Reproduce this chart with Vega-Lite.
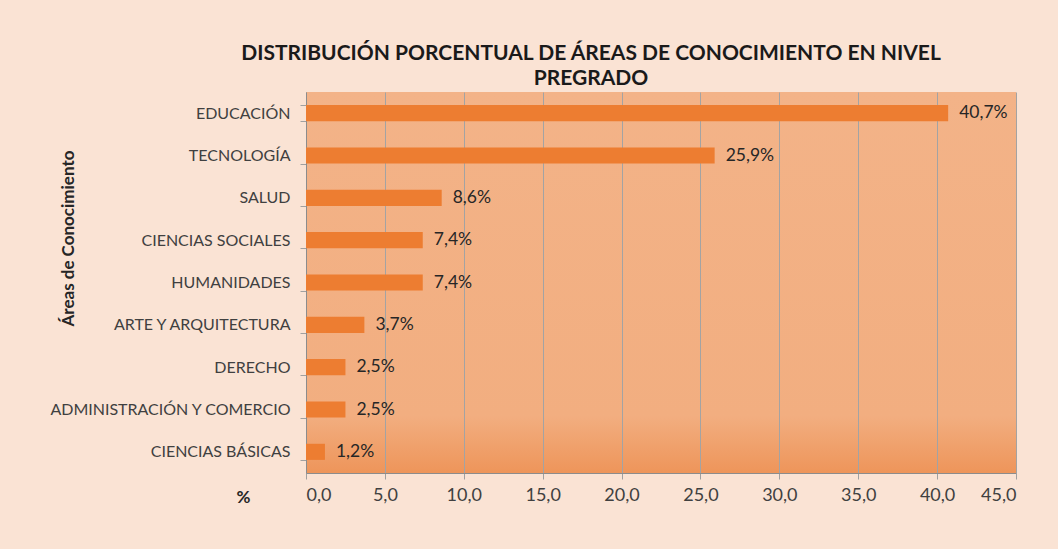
{
  "$schema": "https://vega.github.io/schema/vega-lite/v6.json",
  "width": 710,
  "height": 381,
  "autosize": {"type": "none"},
  "padding": {"left": 306, "top": 92, "right": 42, "bottom": 76},
  "background": "#fae3d4",
  "config": {
    "font": "Lato",
    "locale": {"number": {"decimal": ",", "thousands": ".", "grouping": [3], "currency": ["", "%"]}},
    "view": {
      "stroke": null,
      "fill": {"gradient": "linear", "x1": 0, "y1": 0, "x2": 0, "y2": 1,
        "stops": [{"offset": 0, "color": "#f3b388"}, {"offset": 0.85, "color": "#f2ae80"}, {"offset": 1, "color": "#ee955a"}]}
    }
  },
  "title": {
    "text": ["DISTRIBUCIÓN PORCENTUAL  DE ÁREAS DE CONOCIMIENTO EN NIVEL", "PREGRADO"],
    "fontSize": 21,
    "fontWeight": "bold",
    "color": "#1a1a1a",
    "lineHeight": 25,
    "anchor": "middle",
    "frame": "group",
    "dx": -70,
    "offset": -5
  },
  "data": {
    "values": [
      {"area": "EDUCACIÓN", "pct": 40.7},
      {"area": "TECNOLOGÍA", "pct": 25.9},
      {"area": "SALUD", "pct": 8.6},
      {"area": "CIENCIAS SOCIALES", "pct": 7.4},
      {"area": "HUMANIDADES", "pct": 7.4},
      {"area": "ARTE Y ARQUITECTURA", "pct": 3.7},
      {"area": "DERECHO", "pct": 2.5},
      {"area": "ADMINISTRACIÓN Y COMERCIO", "pct": 2.5},
      {"area": "CIENCIAS BÁSICAS", "pct": 1.2}
    ]
  },
  "encoding": {
    "y": {
      "field": "area", "type": "nominal", "sort": null,
      "scale": {"paddingInner": 0.62, "paddingOuter": 0.31},
      "axis": {
        "title": "Áreas de Conocimiento",
        "titleX": -238, "titleY": 146, "titleAngle": -90, "titleBaseline": "middle", "titleAlign": "center",
        "titleFontSize": 17, "titleFontWeight": "bold", "titleColor": "#262626",
        "labelFontSize": 16, "labelColor": "#404040", "labelPadding": 10, "labelLimit": 400,
        "tickSize": 6, "tickBand": "extent", "tickColor": "#a0a0a0",
        "domainColor": "#8c8c8c", "grid": false
      }
    },
    "x": {
      "field": "pct", "type": "quantitative",
      "scale": {"domain": [0, 45], "nice": false},
      "axis": {
        "values": [0, 5, 10, 15, 20, 25, 30, 35, 40, 45],
        "format": ".1f",
        "grid": true, "gridColor": "#a3a3a3",
        "tickSize": 6, "tickColor": "#a0a0a0", "domainColor": "#8c8c8c",
        "labelFontSize": 18, "labelColor": "#404040", "labelPadding": 7,
        "title": "%", "titleX": -63, "titleY": 24, "titleBaseline": "middle", "titleAlign": "center",
        "titleFontSize": 17, "titleFontWeight": "bold", "titleColor": "#262626"
      }
    }
  },
  "layer": [
    {"mark": {"type": "bar", "color": "#ed7d31"}},
    {
      "mark": {"type": "text", "align": "left", "baseline": "middle", "dx": 11, "fontSize": 17.5, "color": "#262626"},
      "encoding": {"text": {"field": "pct", "type": "quantitative", "format": "$.1f"}}
    }
  ]
}
